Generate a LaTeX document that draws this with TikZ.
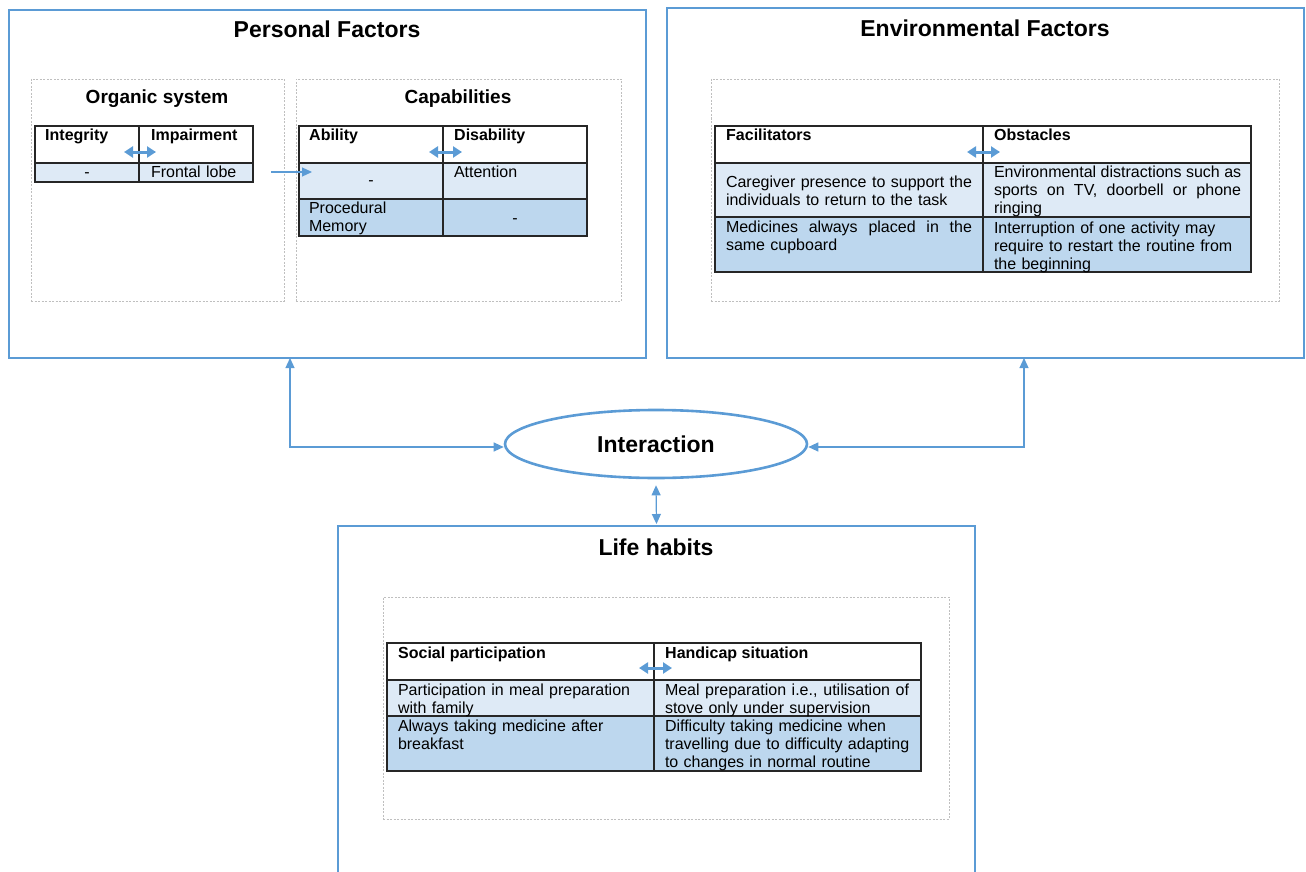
\documentclass[tikz,border=0pt]{standalone}
\usepackage{fontspec}
\setmainfont{Liberation Sans}
\usetikzlibrary{shapes.geometric,arrows.meta}
\definecolor{bblue}{HTML}{5B9BD5}
\definecolor{lrow}{HTML}{DEEAF6}
\definecolor{drow}{HTML}{BDD7EE}
\definecolor{tline}{HTML}{262626}
\definecolor{dgray}{HTML}{BFBFBF}
\newcommand\cellfont{\fontsize{16}{18}\selectfont}
\newcommand\jst[2]{\makebox[#1][s]{\spaceskip=0.278em plus 1fil\xspaceskip=0.278em plus 1fil\relax #2}}
\begin{document}
\begin{tikzpicture}[x=1pt,y=-1pt,
  bigbox/.style={rectangle, draw=bblue, line width=1.2pt, inner sep=0, outer sep=0, anchor=north west},
  dbox/.style={rectangle, draw=dgray, dash pattern=on 2pt off 1.5pt, line width=0.8pt, inner sep=0, outer sep=0, anchor=north west},
  tab/.style={draw=tline, line width=1.4pt},
  ttl/.style={anchor=base, inner sep=0, font=\fontsize{23}{26}\selectfont\bfseries},
  sttl/.style={anchor=base, inner sep=0, font=\fontsize{19}{22}\selectfont\bfseries},
  cell/.style={anchor=base west, inner sep=0, outer sep=0, align=left, font=\cellfont, text width=#1},
  cell/.default=250pt,
  hdr/.style={anchor=base west, inner sep=0, font=\cellfont\bfseries},
  hyph/.style={anchor=base, inner sep=0, font=\cellfont},
  darr/.style={bblue, line width=3pt, {Triangle[length=9pt,width=11pt]}-{Triangle[length=9pt,width=11pt]}},
  conn/.style={bblue, line width=1.2pt, -{Triangle[length=10pt,width=9pt]}},
  conn2/.style={bblue, line width=1.2pt, {Triangle[length=10pt,width=9pt]}-{Triangle[length=10pt,width=9pt]}}
]
\useasboundingbox (0,0) rectangle (1306,872);

% ---------- big boxes ----------
\node[bigbox, minimum width=637pt, minimum height=348pt] (pf) at (9,10) {};
\node[bigbox, minimum width=637pt, minimum height=350pt] (ef) at (667,8) {};
\node[rectangle, inner sep=0, outer sep=0, anchor=north west, minimum width=637pt, minimum height=346pt] (lh) at (338,526) {};
\draw[bblue, line width=1.2pt] (lh.south west) -- (lh.north west) -- (lh.north east) -- (lh.south east);

\node[ttl] (pft) at (327,38) {Personal Factors};
\node[ttl] (eft) at (985,37) {Environmental Factors};
\node[ttl] (lht) at (656,555) {Life habits};

% ---------- dashed inner boxes ----------
\node[dbox, minimum width=253pt, minimum height=222pt] (os) at (31,79) {};
\node[dbox, minimum width=325pt, minimum height=222pt] (cp) at (296,79) {};
\node[dbox, minimum width=568pt, minimum height=222pt] (ed) at (711,79) {};
\node[dbox, minimum width=566pt, minimum height=222pt] (ld) at (383,597) {};

\node[sttl] (ost) at (157,104) {Organic system};
\node[sttl] (cpt) at (458,104) {Capabilities};

% ---------- Organic system table ----------
\fill[lrow] (35,163) rectangle (253,182);
\draw[tab] (35,126) rectangle (253,182);
\draw[tab] (139,126) -- (139,182);
\draw[tab] (35,163) -- (253,163);
\node[hdr] (oi) at (45,141) {Integrity};
\node[hdr] (om) at (151,141) {Impairment};
\node[hyph] (od) at (87,177) {-};
\node[cell=100pt] (fl) at (151,177) {Frontal lobe};
\draw[darr] (124,152) -- (156,152);

% ---------- Capabilities table ----------
\fill[lrow] (299,163) rectangle (587,199);
\fill[drow] (299,199) rectangle (587,236);
\draw[tab] (299,126) rectangle (587,236);
\draw[tab] (443,126) -- (443,236);
\draw[tab] (299,163) -- (587,163);
\draw[tab] (299,199) -- (587,199);
\node[hdr] (ca) at (309,141) {Ability};
\node[hdr] (cd) at (454,141) {Disability};
\node[hyph] (cd1) at (371,185) {-};
\node[cell=120pt] (att) at (454,177) {Attention};
\node[cell=120pt] (pm) at (309,213) {Procedural\\Memory};
\node[hyph] (cd2) at (515,223) {-};
\draw[darr] (429,152) -- (462,152);

\coordinate (fa) at (271,172);
\coordinate (fb) at (312,172);
\draw[conn] (fa) -- (fb);

% ---------- Environmental table ----------
\fill[lrow] (715,163) rectangle (1251,217);
\fill[drow] (715,217) rectangle (1251,272);
\draw[tab] (715,126) rectangle (1251,272);
\draw[tab] (983,126) -- (983,272);
\draw[tab] (715,163) -- (1251,163);
\draw[tab] (715,217) -- (1251,217);
\node[hdr] (fac) at (726,141) {Facilitators};
\node[hdr] (obs) at (994,141) {Obstacles};
\node[cell] (e11) at (726,187) {\jst{246pt}{Caregiver presence to support the}\\individuals to return to the task};
\node[cell] (e12) at (994,177) {\jst{247pt}{Environmental distractions such as}\\\jst{247pt}{sports on TV, doorbell or phone}\\ringing};
\node[cell] (e21) at (726,232) {\jst{246pt}{Medicines always placed in the}\\same cupboard};
\node[cell] (e22) at (994,233) {Interruption of one activity may\\require to restart the routine from\\the beginning};
\draw[darr] (967,152) -- (1000,152);

% ---------- Life habits table ----------
\fill[lrow] (387,680) rectangle (921,716);
\fill[drow] (387,716) rectangle (921,771);
\draw[tab] (387,643) rectangle (921,771);
\draw[tab] (654,643) -- (654,771);
\draw[tab] (387,680) -- (921,680);
\draw[tab] (387,716) -- (921,716);
\node[hdr] (sp) at (398,658) {Social participation};
\node[hdr] (hs) at (665,658) {Handicap situation};
\node[cell] (l11) at (398,695) {Participation in meal preparation\\with family};
\node[cell] (l12) at (665,695) {\jst{244pt}{Meal preparation i.e., utilisation of}\\stove only under supervision};
\node[cell] (l21) at (398,731) {Always taking medicine after\\breakfast};
\node[cell] (l22) at (665,731) {Difficulty taking medicine when\\travelling due to difficulty adapting\\to changes in normal routine};
\draw[darr] (639,668) -- (672,668);

% ---------- Interaction ----------
\node[ellipse, draw=bblue, line width=2.6pt, minimum width=302pt, minimum height=68pt, inner sep=0,
      font=\fontsize{23}{26}\selectfont\bfseries] (int) at (656,444) {Interaction};

\coordinate (lc) at (290,447);
\coordinate (rc) at (1024,447);
\draw[conn2] (pf.south -| lc) -- (lc) -- (int.west |- lc);
\draw[conn2] (ef.south -| rc) -- (rc) -- (int.east |- rc);
\draw[conn2] ([yshift=-6pt]int.south) -- ([yshift=2pt]lh.north);
\end{tikzpicture}
\end{document}
